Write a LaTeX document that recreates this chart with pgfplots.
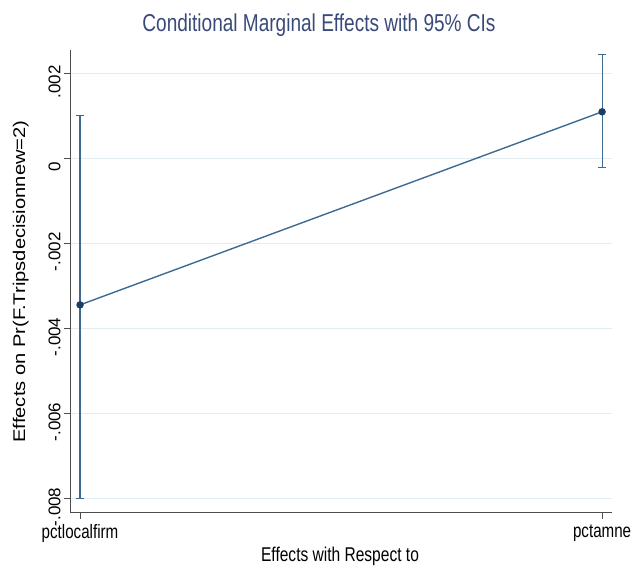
\documentclass[border=0pt]{standalone}
\usepackage{fontspec}
\setmainfont{Liberation Sans}[FakeStretch=0.78]
\newfontfamily\wide{Liberation Sans}
\newfontfamily\ylab{Liberation Sans}[FakeStretch=1.19]
\usepackage{pgfplots}
\pgfplotsset{compat=1.18}
\definecolor{linec}{HTML}{3E6A92}
\definecolor{markc}{HTML}{1A3F66}
\definecolor{gridc}{HTML}{E2ECF0}
\definecolor{titlec}{HTML}{3A4A78}
\begin{document}
\begin{tikzpicture}[x=1bp,y=1bp]
\useasboundingbox (0,0) rectangle (634,571);
\begin{axis}[
  at={(70bp,58bp)}, anchor=south west,
  scale only axis, width=542bp, height=463bp,
  xmin=-0.0192, xmax=1.019,
  ymin=-0.00833, ymax=0.00256,
  axis x line*=bottom, axis y line*=left,
  axis line style={black!70, line width=1pt},
  xtick={0,1}, xticklabels={pctlocalfirm,pctamne},
  ytick={-0.008,-0.006,-0.004,-0.002,0,0.002},
  yticklabels={-.008,-.006,-.004,-.002,0,.002},
  scaled y ticks=false,
  yticklabel style={rotate=90, anchor=south, xshift=-8bp, font=\wide\fontsize{17}{17}\selectfont},
  xticklabel style={font=\fontsize{19.5}{19.5}\selectfont, yshift=-2bp},
  tick align=outside, major tick length=6bp,
  tick style={black!70, line width=1pt},
  ymajorgrids, grid style={gridc, line width=1pt},
  xlabel={Effects with Respect to},
  xlabel style={font=\fontsize{20}{20}\selectfont, yshift=2bp, xshift=-1bp},
  ylabel={\ylab Effects on Pr(F.Tripsdecisionnew=2)},
  ylabel style={font=\fontsize{17}{17}\selectfont, yshift=13bp},
  title={Conditional Marginal Effects with 95\% CIs},
  title style={font=\fontsize{24.5}{24.5}\selectfont, text=titlec, yshift=4bp, xshift=-22bp},
  clip=false,
]
\addplot[linec, line width=1.4pt, mark=*, mark size=3bp,
  mark options={fill=markc, draw=markc},
  error bars/.cd, y dir=both, y explicit,
  error bar style={draw=linec, line width=1.1pt},
  error mark options={mark size=4bp, draw=linec, line width=1.1pt, rotate=90}]
  coordinates {
    (0,-0.003435) +- (0,0.004445) -= (0,0.004545)
    (1,0.001106) +- (0,0.001341) -= (0,0.001318)
  };
\end{axis}
\end{tikzpicture}
\end{document}
